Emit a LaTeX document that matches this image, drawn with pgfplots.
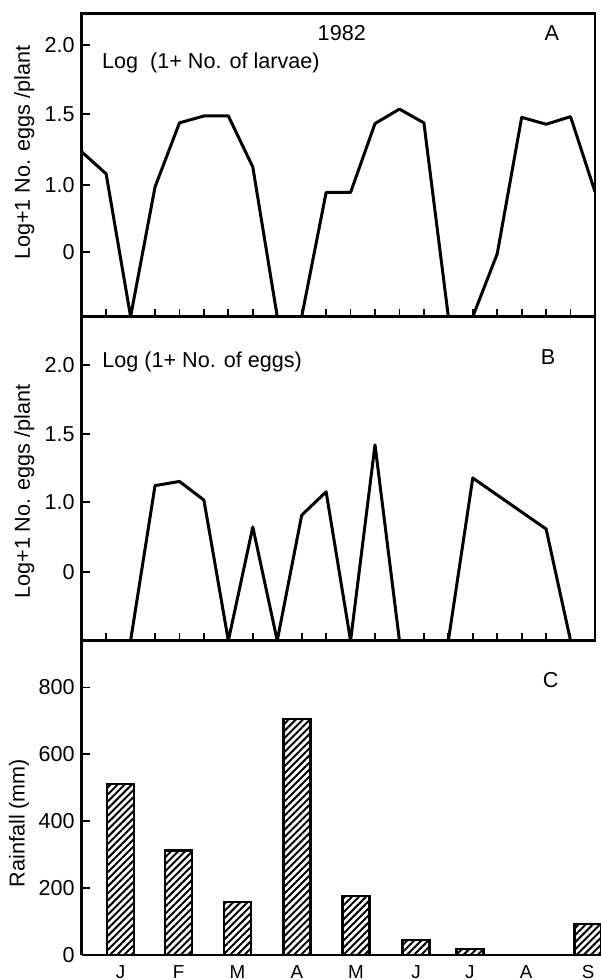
\documentclass[border=0pt]{standalone}
\usepackage{fontspec}
\setmainfont{Liberation Sans}
\usepackage{pgfplots}
\pgfplotsset{compat=1.18}
\usetikzlibrary{patterns.meta}

\begin{document}
\begin{tikzpicture}[font=\fontsize{10.8bp}{13bp}\selectfont]
\path[use as bounding box] (0,0) rectangle (300.5bp,-490bp);
\pgfplotsset{
  panel/.style={
    scale only axis, width=256.65bp,
    xmin=0, xmax=21,
    axis line style={line width=1.4bp},
    every tick/.style={line width=0.9bp, black},
    tick align=inside,
    tick pos=left,
    major tick length=4bp,
    font=\fontsize{10.8bp}{13bp}\selectfont,
    ylabel style={anchor=center},
  },
  curve/.style={black, line width=1.5bp, line join=round, mark=none},
}

% Panel A
\begin{axis}[panel, name=A, at={(40.85bp,-6.65bp)}, anchor=north west, height=151.7bp,
  ymin=-0.943, ymax=3.46, ytick={0,0.968,1.998,3.0}, yticklabels={0,1.0,1.5,2.0},
  xtick={1,...,20}, xticklabels={},
  ylabel={Log+1 No. eggs /plant},
  ylabel style={at={(rel axis cs:-0.112,0.54)}}]
\addplot[curve] coordinates {(0,1.45)(1,1.13)(2,-0.943)(3,0.94)(4,1.87)(5,1.97)(6,1.97)(7,1.23)(8,-0.943)(9,-0.943)(10,0.86)(11,0.86)(12,1.86)(13,2.07)(14,1.87)(15,-0.943)(16,-0.943)(17,-0.03)(18,1.95)(19,1.85)(20,1.96)(21,0.87)};
\node[inner sep=0, anchor=center] at (axis cs:10.64,3.17) {1982};
\node[inner sep=0, anchor=center] at (axis cs:19.23,3.17) {A};
\node[inner sep=0, anchor=west] at (axis cs:0.82,2.74) {Log~ (1+ No. of larvae)};
\end{axis}

% Panel B
\begin{axis}[panel, name=B, at={(40.85bp,-158.35bp)}, anchor=north west, height=162bp,
  ymin=-1.0, ymax=3.70, ytick={0,1.016,1.994,3.0}, yticklabels={0,1.0,1.5,2.0},
  xtick={1,...,20}, xticklabels={},
  ylabel={Log+1 No. eggs /plant},
  ylabel style={at={(rel axis cs:-0.112,0.46)}}]
\addplot[curve] coordinates {(0,-1)(1,-1)(2,-1)(3,1.25)(4,1.31)(5,1.04)(6,-1)(7,0.65)(8,-1)(9,0.82)(10,1.16)(11,-1)(12,1.84)(13,-1)(14,-1)(15,-1)(16,1.36)(19,0.62)(20,-1)(21,-1)};
\node[inner sep=0, anchor=west] at (axis cs:0.83,3.05) {Log (1+ No. of eggs)};
\node[inner sep=0, anchor=center] at (axis cs:19.08,3.12) {B};
\end{axis}

% Panel C
\begin{axis}[panel, name=C, at={(40.85bp,-320.35bp)}, anchor=north west, height=157.15bp,
  axis x line*=bottom, axis y line*=left, clip=false,
  ymin=0, ymax=939.6, ytick={0,200,400,600,800}, yticklabels={0,200,400,600,800},
  xtick={1.59,3.96,6.37,8.80,11.22,13.68,15.88,18.18,20.72},
  xticklabels={J,F,M,A,M,J,J,A,S},
  x tick style={draw=none},
  x tick label style={font=\fontsize{9.4bp}{11bp}\selectfont, inner sep=0pt, anchor=north, yshift=-1bp},
  ylabel={Rainfall (mm)},
  ylabel style={at={(rel axis cs:-0.122,0.42)}},
  ybar, bar width=13.5bp]
\addplot[draw=black, line width=1.3bp,
  pattern={Lines[angle=45,distance=2.5bp,line width=1bp]}]
  coordinates {(1.59,511)(3.96,312)(6.37,158)(8.80,705)(11.22,177)(13.68,45)(15.88,18)(20.72,93)};
\node[inner sep=0, anchor=center] at (axis cs:19.19,822) {C};
\end{axis}
\end{tikzpicture}
\end{document}
